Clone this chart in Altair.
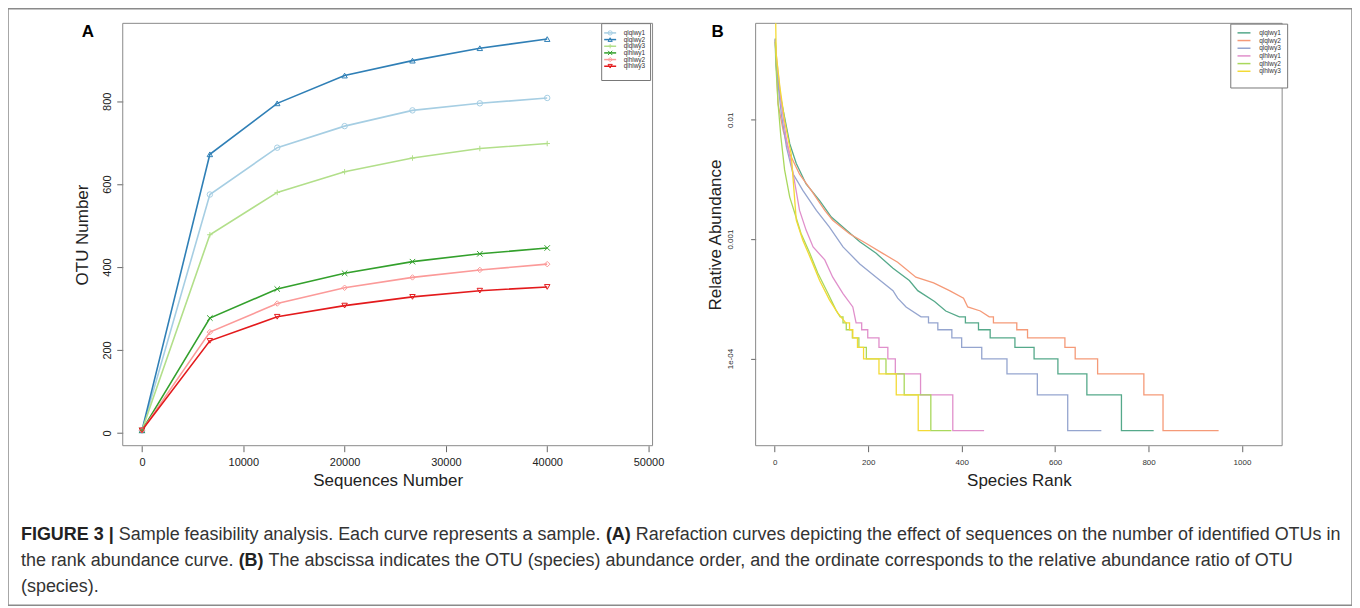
import altair as alt
import pandas as pd

# ---------------- data ----------------
samples = ["qlqlwy1", "qlqlwy2", "qlqlwy3", "qlhlwy1", "qlhlwy2", "qlhlwy3"]

# Panel A: rarefaction curves
seq_numbers = [0, 6700, 13350, 20000, 26700, 33350, 40000]
otu_qlqlwy1 = [6, 575, 688, 740, 778, 795, 808]
otu_qlqlwy2 = [6, 672, 795, 862, 898, 928, 950]
otu_qlqlwy3 = [6, 478, 580, 630, 663, 686, 698]
otu_qlhlwy1 = [6, 277, 347, 385, 413, 432, 446]
otu_qlhlwy2 = [6, 243, 312, 350, 375, 393, 407]
otu_qlhlwy3 = [6, 222, 280, 307, 328, 343, 352]

# Panel B: rank abundance curves (rank, relative abundance)
rank_qlqlwy1 = [1, 3, 11, 21, 32, 46, 67, 96, 121, 153, 182, 217, 253, 288, 306, 342, 366, 395,
                408, 408, 436, 436, 461, 461, 514, 514, 555, 555, 606, 606, 668, 668, 742, 742, 811]
abund_qlqlwy1 = [0.048, 0.0294, 0.0165, 0.0105, 0.0063, 0.0043, 0.0029, 0.0021, 0.00153, 0.00119,
                 0.00095, 0.00076, 0.00057, 0.00045, 0.00037, 0.0003, 0.00025, 0.000223,
                 0.000223, 0.000199, 0.000199, 0.000174, 0.000174, 0.000149, 0.000149, 0.000124,
                 0.000124, 0.0000993, 0.0000993, 0.0000744, 0.0000744, 0.0000496, 0.0000496,
                 0.0000248, 0.0000248]
rank_qlqlwy2 = [1, 7, 18, 32, 53, 78, 107, 124, 160, 196, 231, 263, 302, 340, 374, 404, 413, 440, 459,
                468, 468, 518, 518, 541, 541, 621, 621, 643, 643, 691, 691, 790, 790, 831, 831, 950]
abund_qlqlwy2 = [0.047, 0.0136, 0.0081, 0.0052, 0.0035, 0.00256, 0.00174, 0.00144, 0.00111, 0.00092,
                 0.00076, 0.00064, 0.00048, 0.00043, 0.00037, 0.00032, 0.00027, 0.00025, 0.000223,
                 0.000223, 0.000199, 0.000199, 0.000174, 0.000174, 0.000149, 0.000149, 0.000124,
                 0.000124, 0.0000993, 0.0000993, 0.0000744, 0.0000744, 0.0000496, 0.0000496,
                 0.0000248, 0.0000248]
rank_qlqlwy3 = [1, 2, 14, 25, 39, 60, 89, 117, 146, 182, 217, 253, 263, 281, 313,
                329, 329, 349, 349, 379, 379, 400, 400, 443, 443, 497, 497, 562, 562, 627, 627, 699]
abund_qlqlwy3 = [0.047, 0.03, 0.0112, 0.0059, 0.00353, 0.00256, 0.00174, 0.00126, 0.00086, 0.00062,
                 0.00048, 0.00037, 0.00032, 0.00027, 0.000223,
                 0.000223, 0.000199, 0.000199, 0.000174, 0.000174, 0.000149, 0.000149, 0.000124,
                 0.000124, 0.0000993, 0.0000993, 0.0000744, 0.0000744, 0.0000496, 0.0000496,
                 0.0000248, 0.0000248]
rank_qlhlwy1 = [1, 3, 14, 24, 39, 53, 67, 82, 107, 124, 146, 167, 174,
                186, 186, 199, 199, 223, 223, 242, 242, 258, 258, 312, 312, 381, 381, 448]
abund_qlhlwy1 = [0.045, 0.0356, 0.0136, 0.0072, 0.0036, 0.00174, 0.00119, 0.00086, 0.00067, 0.00048,
                 0.00035, 0.00027, 0.000199,
                 0.000199, 0.000174, 0.000174, 0.000149, 0.000149, 0.000124, 0.000124, 0.0000993,
                 0.0000993, 0.0000744, 0.0000744, 0.0000496, 0.0000496, 0.0000248, 0.0000248]
rank_qlhlwy2 = [1, 3, 7, 13, 21, 32, 43, 56, 75, 92, 114, 131, 140, 146,
                146, 153, 153, 166, 166, 180, 180, 196, 196, 238, 238, 277, 277, 334, 334, 378]
abund_qlhlwy2 = [0.045, 0.0259, 0.0137, 0.0072, 0.0038, 0.00225, 0.00164, 0.00112, 0.00076, 0.00052,
                 0.00035, 0.000254, 0.000223, 0.000223,
                 0.000199, 0.000199, 0.000174, 0.000174, 0.000149, 0.000149, 0.000124, 0.000124,
                 0.0000993, 0.0000993, 0.0000744, 0.0000744, 0.0000496, 0.0000496, 0.0000248,
                 0.0000248]
rank_qlhlwy3 = [2, 3, 11, 21, 32, 35, 46, 60, 78, 96, 117, 135, 152, 160,
                160, 167, 167, 177, 177, 190, 190, 223, 223, 260, 260, 307, 307, 333]
abund_qlhlwy3 = [0.0643, 0.0356, 0.0187, 0.0099, 0.0059, 0.0052, 0.00144, 0.00098, 0.00067, 0.00045,
                 0.00031, 0.00024, 0.000199, 0.000199,
                 0.000174, 0.000174, 0.000149, 0.000149, 0.000124, 0.000124, 0.0000993, 0.0000993,
                 0.0000744, 0.0000744, 0.0000496, 0.0000496, 0.0000248, 0.0000248]

colors_a = ["#a6cee3", "#2f7fb6", "#b2df8a", "#33a02c", "#fb9a99", "#e31a1c"]
colors_b = ["#55a98a", "#f59a78", "#95a5cf", "#e08fcb", "#a9d85c", "#f3da35"]
shapes_a = ["circle", "triangle-up", "M-1,0L1,0M0,-1L0,1", "M-1,-1L1,1M-1,1L1,-1",
            "diamond", "triangle-down"]

caption_l1_bold = "FIGURE 3 |"
caption_l1_a = "Sample feasibility analysis. Each curve represents a sample."
caption_l1_b = "(A)"
caption_l1_c = "Rarefaction curves depicting the effect of sequences on the number of identified OTUs in"
caption_l2_a = "the rank abundance curve."
caption_l2_b = "(B)"
caption_l2_c = ("The abscissa indicates the OTU (species) abundance order, and the ordinate "
                "corresponds to the relative abundance ratio of OTU")
caption_l3 = "(species)."

# ---------------- tables ----------------
otu_lists = [otu_qlqlwy1, otu_qlqlwy2, otu_qlqlwy3, otu_qlhlwy1, otu_qlhlwy2, otu_qlhlwy3]
rows_a = []
for s, vals in zip(samples, otu_lists):
    for x, v in zip(seq_numbers, vals):
        rows_a.append({"sampleA": s, "seqs": x, "otu": v})
df_a = pd.DataFrame(rows_a)
df_leg_a = pd.DataFrame({"sampleA": samples})

rank_lists = [rank_qlqlwy1, rank_qlqlwy2, rank_qlqlwy3, rank_qlhlwy1, rank_qlhlwy2, rank_qlhlwy3]
abund_lists = [abund_qlqlwy1, abund_qlqlwy2, abund_qlqlwy3, abund_qlhlwy1, abund_qlhlwy2, abund_qlhlwy3]
rows_b = []
for s, rk, ab in zip(samples, rank_lists, abund_lists):
    for i, (r, a) in enumerate(zip(rk, ab)):
        rows_b.append({"sampleB": s, "rank": r, "abund": a, "idx": i})
df_b = pd.DataFrame(rows_b)

one = pd.DataFrame({"k": [0]})

FONT = "Liberation Sans"
W, H = 1347, 598

# layout (pixels inside the chart)
A_X0, A_X1 = 115, 646
B_X0, B_X1 = 749.3, 1277
Y0, Y1 = 14.7, 438

# ---------------- panel A ----------------
ax_a_x = alt.Axis(orient="bottom", offset=Y1 - H, values=[0, 10000, 20000, 30000, 40000, 50000],
                  format="d", domain=False, grid=False, tickSize=6, tickColor="#666",
                  labelFontSize=11, labelPadding=5, labelColor="#222", labelFont=FONT,
                  title="Sequences Number", titleFontSize=17, titleFontWeight="normal",
                  titleFont=FONT, titleColor="#222", titleX=(A_X0 + A_X1) / 2, titleY=35,
                  titleBaseline="middle", titleAlign="center")
ax_a_y = alt.Axis(orient="left", offset=-A_X0, values=[0, 200, 400, 600, 800], domain=False,
                  grid=False, tickSize=6, tickColor="#666", labelAngle=270, labelAlign="center",
                  labelBaseline="bottom", labelPadding=4, labelFontSize=11, labelColor="#222",
                  labelFont=FONT, title="OTU Number", titleFontSize=17, titleFontWeight="normal",
                  titleFont=FONT, titleColor="#222", titleX=-40, titleY=(Y0 + Y1) / 2,
                  titleAngle=270, titleAlign="center", titleBaseline="middle")

xs_a = alt.Scale(domain=[-1900, 50400], range=[A_X0, A_X1], nice=False, zero=False)
ys_a = alt.Scale(domain=[-31, 988], range=[Y1, Y0], nice=False, zero=False)
col_a = alt.Scale(domain=samples, range=colors_a)
shp_a = alt.Scale(domain=samples, range=shapes_a)

line_a = alt.Chart(df_a).mark_line(strokeWidth=1.6).encode(
    x=alt.X("seqs:Q", scale=xs_a, axis=ax_a_x),
    y=alt.Y("otu:Q", scale=ys_a, axis=ax_a_y),
    color=alt.Color("sampleA:N", scale=col_a, legend=None),
)
pts_a = alt.Chart(df_a).mark_point(filled=False, size=30, strokeWidth=1, opacity=1).encode(
    x=alt.X("seqs:Q", scale=xs_a, axis=ax_a_x),
    y=alt.Y("otu:Q", scale=ys_a, axis=ax_a_y),
    color=alt.Color("sampleA:N", scale=col_a, legend=None),
    shape=alt.Shape("sampleA:N", scale=shp_a, legend=None),
)
panel_a = alt.layer(line_a, pts_a)

# legend of panel A (R style: line + marker), positioned inside the plot box
LEG_Y = alt.Scale(type="point", domain=samples, range=[24.3, 57.7], padding=0)
leg_a_box = alt.Chart(one).mark_rect(fill="white", stroke="#777", strokeWidth=1).encode(
    x=alt.value(595), x2=alt.value(644), y=alt.value(15), y2=alt.value(72))
leg_a_line = alt.Chart(df_leg_a).mark_rule(strokeWidth=1.5).encode(
    x=alt.value(597.5), x2=alt.value(609.5),
    y=alt.Y("sampleA:N", scale=LEG_Y, axis=None),
    color=alt.Color("sampleA:N", scale=col_a, legend=None),
)
leg_a_pts = alt.Chart(df_leg_a).mark_point(filled=False, size=18, strokeWidth=1, opacity=1).encode(
    x=alt.value(603.5),
    y=alt.Y("sampleA:N", scale=LEG_Y, axis=None),
    color=alt.Color("sampleA:N", scale=col_a, legend=None),
    shape=alt.Shape("sampleA:N", scale=shp_a, legend=None),
)
leg_a_txt = alt.Chart(df_leg_a).mark_text(align="left", baseline="middle", fontSize=6.5, font=FONT,
                                          color="#333").encode(
    x=alt.value(617),
    y=alt.Y("sampleA:N", scale=LEG_Y, axis=None),
    text="sampleA:N",
)
legend_a = alt.layer(leg_a_line, leg_a_pts, leg_a_txt)

# ---------------- panel B ----------------
ax_b_x = alt.Axis(orient="bottom", offset=Y1 - H, values=[0, 200, 400, 600, 800, 1000], format="d",
                  domain=False, grid=False, tickSize=6, tickColor="#666", labelFontSize=8,
                  labelPadding=7, labelColor="#333", labelFont=FONT,
                  title="Species Rank", titleFontSize=17, titleFontWeight="normal",
                  titleFont=FONT, titleColor="#222", titleX=(B_X0 + B_X1) / 2, titleY=35,
                  titleBaseline="middle", titleAlign="center")
ax_b_y = alt.Axis(orient="left", offset=-B_X0, values=[0.01, 0.001, 0.0001], domain=False,
                  grid=False, tickSize=5, tickColor="#666", labelAngle=270, labelAlign="center",
                  labelBaseline="bottom", labelPadding=16, labelFontSize=8, labelColor="#333",
                  labelFont=FONT,
                  labelExpr="datum.value >= 0.005 ? '0.01' : datum.value >= 0.0005 ? '0.001' : '1e-04'",
                  title="Relative Abundance", titleFontSize=17, titleFontWeight="normal",
                  titleFont=FONT, titleColor="#222", titleX=-40, titleY=(Y0 + Y1) / 2,
                  titleAngle=270, titleAlign="center", titleBaseline="middle")
leg_b = alt.Legend(title=" ", titleOrient="bottom", titleFontSize=6, titlePadding=1,
                   orient="none", legendX=1225, legendY=15, padding=6,
                   strokeColor="#777", fillColor="white", labelFontSize=6.5, labelFont=FONT,
                   labelColor="#333", symbolType="M-3.25,0L3.25,0", symbolSize=16,
                   symbolStrokeWidth=1.5, symbolOffset=4.5, rowPadding=0.7, labelOffset=12)

panel_b = alt.Chart(df_b).mark_line(strokeWidth=1.3).encode(
    x=alt.X("rank:Q", scale=alt.Scale(domain=[-41, 1086], range=[B_X0, B_X1], nice=False, zero=False),
            axis=ax_b_x),
    y=alt.Y("abund:Q", scale=alt.Scale(type="log", domain=[1.858e-5, 0.0643], range=[Y1, Y0],
                                       nice=False), axis=ax_b_y),
    color=alt.Color("sampleB:N", scale=alt.Scale(domain=samples, range=colors_b), legend=leg_b),
    order=alt.Order("idx:Q"),
)


# ---------------- decorations ----------------
def box(x0, x1):
    return alt.Chart(one).mark_rect(fillOpacity=0, stroke="#8a8a8a", strokeWidth=1).encode(
        x=alt.value(x0), x2=alt.value(x1), y=alt.value(Y0), y2=alt.value(Y1))


def label(text, x, y, size=18, weight="normal", color="#333"):
    return alt.Chart(one).mark_text(align="left", baseline="middle", font=FONT, fontSize=size,
                                    fontWeight=weight, color=color).encode(
        x=alt.value(x), y=alt.value(y), text=alt.value(text))


CAP = 18
l1, l2, l3 = 528, 554, 580
decor = [
    label("A", 74, 23.5, size=17, weight="bold", color="#000"),
    label("B", 705, 23.5, size=17, weight="bold", color="#000"),
    label(caption_l1_bold, 13, l1, size=CAP, weight="bold", color="#222"),
    label(caption_l1_a, 13 + 5.448 * CAP, l1, size=CAP),
    label(caption_l1_b, 13 + 32.568 * CAP, l1, size=CAP, weight="bold", color="#222"),
    label(caption_l1_c, 13 + 34.234 * CAP, l1, size=CAP),
    label(caption_l2_a, 13, l2, size=CAP),
    label(caption_l2_b, 13 + 12.12 * CAP, l2, size=CAP, weight="bold", color="#222"),
    label(caption_l2_c, 13 + 13.786 * CAP, l2, size=CAP),
    label(caption_l3, 13, l3, size=CAP),
]

chart = alt.layer(
    box(A_X0, A_X1), box(B_X0, B_X1), panel_a, leg_a_box, legend_a, panel_b, *decor
).resolve_scale(
    x="independent", y="independent", color="independent", shape="independent"
).properties(
    width=W, height=H, padding=0, autosize=alt.AutoSizeParams(type="none")
).configure(font=FONT).configure_view(
    stroke="#8a8a8a", strokeWidth=1.5
)

chart.save("out.html", embed_options={"renderer": "svg", "actions": False})
